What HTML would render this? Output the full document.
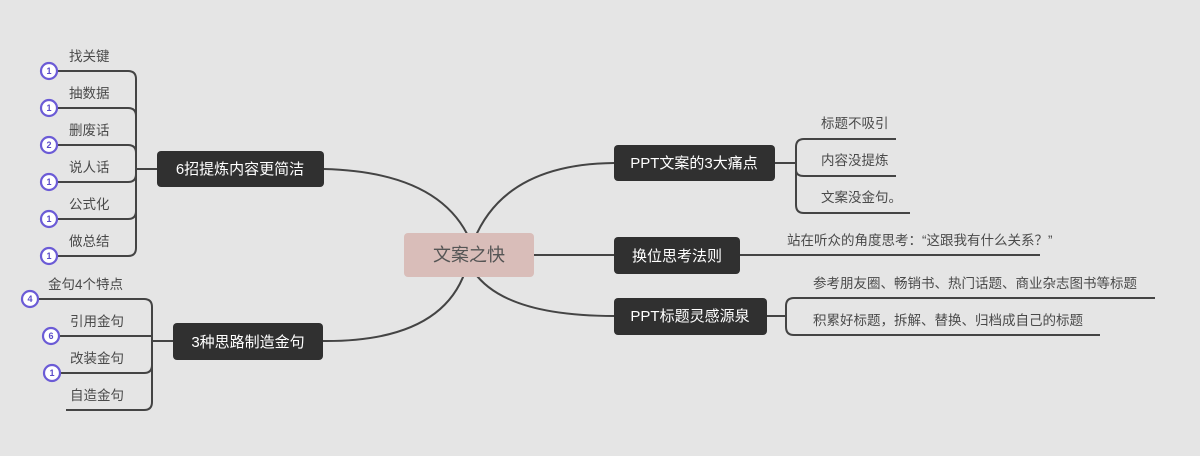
<!DOCTYPE html>
<html><head><meta charset="utf-8"><style>
html,body{margin:0;padding:0;background:#e5e5e5;}
svg{display:block;font-family:"Liberation Sans","Noto Sans CJK SC",sans-serif;}
.n{fill:#303030;}
.nt{fill:#fff;font-size:15px;text-anchor:middle;}
.l{fill:#4a4a4a;font-size:13.5px;}
.ln{fill:none;stroke:#444;stroke-width:2;}
.c{fill:#fff;stroke:#6b5bd6;stroke-width:2.2;}
.ct{fill:#5a4bc8;font-size:9px;font-weight:bold;text-anchor:middle;}
</style></head><body>
<svg width="1200" height="456" viewBox="0 0 1200 456">
<rect width="1200" height="456" fill="#e5e5e5"/>
<path class="ln" d="M470 240 Q440 172 324 169"/>
<path class="ln" d="M465 272 Q440 342 323 341"/>
<path class="ln" d="M474 240 Q505 164 614 163"/>
<path class="ln" d="M534 255 L614 255"/>
<path class="ln" d="M474 272 Q505 316 614 316"/>
<rect x="404" y="233" width="130" height="44" rx="4" fill="#d9bdb9"/>
<text x="469" y="261" font-size="18" fill="#555" text-anchor="middle">文案之快</text>

<path class="ln" d="M136 169 L157 169"/>
<path class="ln" d="M48 71 L128 71 Q136 71 136 79 L136 248 Q136 256 128 256 L48 256"/>
<path class="ln" d="M48 108 L128 108 Q136 108 136 116"/>
<path class="ln" d="M48 145 L128 145 Q136 145 136 153"/>
<path class="ln" d="M48 182 L128 182 Q136 182 136 174"/>
<path class="ln" d="M48 219 L128 219 Q136 219 136 211"/>
<rect class="n" x="157" y="151" width="167" height="36" rx="4"/>
<text class="nt" x="240" y="174">6招提炼内容更简洁</text>
<text class="l" x="69" y="61">找关键</text>
<text class="l" x="69" y="98">抽数据</text>
<text class="l" x="69" y="135">删废话</text>
<text class="l" x="69" y="172">说人话</text>
<text class="l" x="69" y="209">公式化</text>
<text class="l" x="69" y="246">做总结</text>
<circle class="c" cx="49" cy="71" r="8"/><text class="ct" x="49" y="74">1</text>
<circle class="c" cx="49" cy="108" r="8"/><text class="ct" x="49" y="111">1</text>
<circle class="c" cx="49" cy="145" r="8"/><text class="ct" x="49" y="148">2</text>
<circle class="c" cx="49" cy="182" r="8"/><text class="ct" x="49" y="185">1</text>
<circle class="c" cx="49" cy="219" r="8"/><text class="ct" x="49" y="222">1</text>
<circle class="c" cx="49" cy="256" r="8"/><text class="ct" x="49" y="259">1</text>

<path class="ln" d="M152 341 L173 341"/>
<path class="ln" d="M30 299 L144 299 Q152 299 152 307 L152 402 Q152 410 144 410 L66 410"/>
<path class="ln" d="M51 336 L152 336"/>
<path class="ln" d="M52 373 L144 373 Q152 373 152 365"/>
<rect class="n" x="173" y="323" width="150" height="37" rx="4"/>
<text class="nt" x="248" y="347">3种思路制造金句</text>
<text class="l" x="48" y="289">金句4个特点</text>
<text class="l" x="70" y="326">引用金句</text>
<text class="l" x="70" y="363">改装金句</text>
<text class="l" x="70" y="400">自造金句</text>
<circle class="c" cx="30" cy="299" r="8"/><text class="ct" x="30" y="302">4</text>
<circle class="c" cx="51" cy="336" r="8"/><text class="ct" x="51" y="339">6</text>
<circle class="c" cx="52" cy="373" r="8"/><text class="ct" x="52" y="376">1</text>

<path class="ln" d="M775 163 L796 163"/>
<path class="ln" d="M896 139 L804 139 Q796 139 796 147 L796 205 Q796 213 804 213 L910 213"/>
<path class="ln" d="M804 176 L896 176 M804 176 Q796 176 796 170"/>
<rect class="n" x="614" y="145" width="161" height="36" rx="4"/>
<text class="nt" x="694" y="168">PPT文案的3大痛点</text>
<text class="l" x="821" y="128">标题不吸引</text>
<text class="l" x="821" y="165">内容没提炼</text>
<text class="l" x="821" y="202">文案没金句。</text>

<path class="ln" d="M740 255 L1040 255"/>
<rect class="n" x="614" y="237" width="126" height="37" rx="4"/>
<text class="nt" x="677" y="261">换位思考法则</text>
<text class="l" x="787" y="245">站在听众的角度思考：“这跟我有什么关系？”</text>

<path class="ln" d="M767 316 L786 316"/>
<path class="ln" d="M1155 298 L794 298 Q786 298 786 306 L786 327 Q786 335 794 335 L1100 335"/>
<rect class="n" x="614" y="298" width="153" height="37" rx="4"/>
<text class="nt" x="690" y="321">PPT标题灵感源泉</text>
<text class="l" x="813" y="288">参考朋友圈、畅销书、热门话题、商业杂志图书等标题</text>
<text class="l" x="813" y="325">积累好标题，拆解、替换、归档成自己的标题</text>
</svg>
</body></html>
